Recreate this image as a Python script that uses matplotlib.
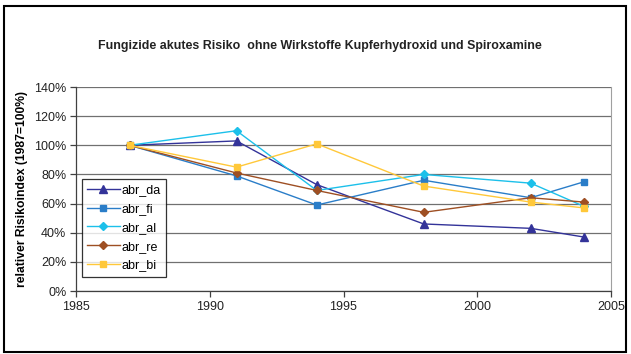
import matplotlib
matplotlib.use("Agg")
import matplotlib.pyplot as plt
from matplotlib.patches import Rectangle
from matplotlib.ticker import FuncFormatter

plt.rcParams["font.family"] = ["Liberation Sans", "DejaVu Sans"]

years = [1987, 1991, 1994, 1998, 2002, 2004]

abr_da = [100, 103, 73, 46, 43, 37]
abr_fi = [100, 79, 59, 76, 64, 75]
abr_al = [100, 110, 69, 80, 74, 58]
abr_re = [100, 81, 69, 54, 64, 61]
abr_bi = [100, 85, 101, 72, 61, 57]

series = [
    ("abr_da", abr_da, "#333399", "^", 5.5),
    ("abr_fi", abr_fi, "#2A7DC8", "s", 5.0),
    ("abr_al", abr_al, "#1CC0EA", "D", 4.5),
    ("abr_re", abr_re, "#9E4F23", "D", 4.5),
    ("abr_bi", abr_bi, "#FFC83A", "s", 4.5),
]

W, H = 631, 354
fig = plt.figure(figsize=(W / 100, H / 100), dpi=100)

# outer frame
fig.patches.append(Rectangle((4 / W, 2 / H), 622 / W, 346 / H, transform=fig.transFigure,
                             fill=False, edgecolor="black", linewidth=1.5))

left, right, top, bottom = 76, 611, 87, 291
ax = fig.add_axes([left / W, 1 - bottom / H, (right - left) / W, (bottom - top) / H])

for name, vals, color, marker, ms in series:
    ax.plot(years, vals, color=color, lw=1.0, marker=marker, ms=ms,
            markeredgecolor=color, label=name, zorder=3)

ax.set_xlim(1985, 2005)
ax.set_ylim(0, 140)
ax.set_xticks(range(1985, 2006, 5))
ax.set_yticks(range(0, 141, 20))
ax.yaxis.set_major_formatter(FuncFormatter(lambda v, _: f"{v:.0f}%"))
ax.grid(axis="y", color="#707070", lw=0.9)
ax.set_axisbelow(True)

for side in ("left", "bottom"):
    ax.spines[side].set_color("#404040")
    ax.spines[side].set_linewidth(0.9)
ax.spines["right"].set_color("#A0A0A0")
ax.spines["top"].set_visible(False)
ax.tick_params(axis="both", direction="out", length=4, width=0.9, color="#404040",
               labelsize=9, labelcolor="#222222", pad=3)

ax.set_ylabel("relativer Risikoindex (1987=100%)", fontsize=8.7, fontweight="bold", labelpad=4)

fig.text(320 / W, 1 - 46 / H,
         "Fungizide akutes Risiko  ohne Wirkstoffe Kupferhydroxid und Spiroxamine",
         ha="center", va="center", fontsize=8.9, fontweight="bold", color="#222222")

leg = ax.legend(loc="upper left", bbox_to_anchor=((82 - left) / (right - left), (bottom - 179) / (bottom - top)),
                fontsize=9, frameon=True, fancybox=False, borderpad=0.4,
                labelspacing=0.55, handlelength=2.6, handletextpad=0.15, borderaxespad=0)
leg.get_frame().set_edgecolor("black")
leg.get_frame().set_linewidth(0.9)

fig.savefig("out.png", dpi=100)
